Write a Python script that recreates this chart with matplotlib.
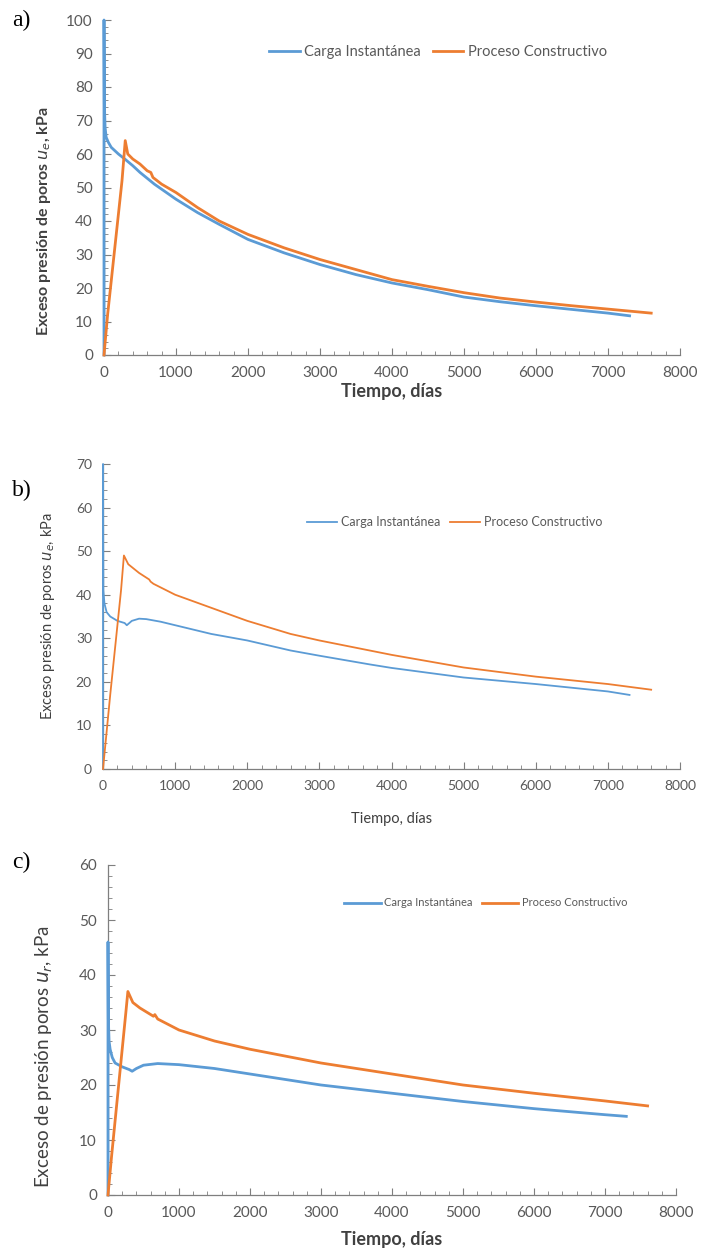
import matplotlib
matplotlib.use("Agg")
import matplotlib.pyplot as plt
from matplotlib.ticker import MultipleLocator

# ---------------- data ----------------
# Panel a
a_inst_t = [0, 0, 5, 15, 30, 60, 100, 200, 300, 400, 500, 700, 1000, 1300, 1600, 2000,
            2500, 3000, 3500, 4000, 4500, 5000, 5500, 6000, 6500, 7000, 7300]
a_inst_u = [0, 100, 75, 68, 65, 63.5, 62, 60, 58.3, 56.5, 54.5, 51, 46.5, 42.5, 39, 34.5,
            30.5, 27, 24, 21.5, 19.5, 17.3, 15.9, 14.7, 13.6, 12.5, 11.7]
a_cons_t = [0, 50, 100, 150, 200, 250, 295, 330, 400, 500, 600, 650, 680, 800, 1000, 1300,
            1600, 2000, 2500, 3000, 3500, 4000, 4500, 5000, 5500, 6000, 6500, 7000, 7600]
a_cons_u = [0, 12, 22, 32, 42, 52, 64, 60, 58.5, 57, 55, 54.5, 53, 51, 48.5, 44,
            40, 36, 32, 28.5, 25.5, 22.5, 20.5, 18.6, 17, 15.8, 14.7, 13.7, 12.5]

# Panel b
b_inst_t = [0, 0, 5, 20, 50, 100, 200, 300, 330, 400, 500, 600, 800, 1000, 1500, 2000,
            2600, 3000, 3700, 4000, 5000, 6000, 7000, 7300]
b_inst_u = [0, 70, 41, 38, 36, 35, 34, 33.5, 33, 34, 34.5, 34.4, 33.8, 33, 31, 29.5,
            27.2, 26, 24, 23.2, 21, 19.5, 17.8, 17]
b_cons_t = [0, 50, 100, 150, 200, 250, 290, 350, 500, 640, 660, 700, 1000, 1500, 2000,
            2600, 3000, 4000, 5000, 6000, 7000, 7600]
b_cons_u = [0, 8.5, 17, 25, 33, 41, 49, 47, 45, 43.5, 43, 42.5, 40, 37, 34,
            31, 29.5, 26.2, 23.3, 21.2, 19.5, 18.2]

# Panel c
c_inst_t = [0, 0, 5, 15, 30, 60, 100, 200, 300, 340, 400, 500, 700, 1000, 1500, 2000,
            3000, 4000, 5000, 6000, 7000, 7300]
c_inst_u = [0, 46, 32, 28, 26.5, 25, 24, 23.3, 22.8, 22.5, 23, 23.6, 23.9, 23.7, 23, 22,
            20, 18.5, 17, 15.7, 14.6, 14.3]
c_cons_t = [0, 50, 100, 150, 200, 250, 280, 350, 450, 640, 660, 700, 1000, 1500, 2000,
            3000, 4000, 5000, 6000, 7000, 7600]
c_cons_u = [0, 7, 13.5, 20, 26.5, 33, 37, 35, 34, 32.5, 32.8, 32, 30, 28, 26.5,
            24, 22, 20, 18.5, 17.1, 16.2]

labels = ["Carga Instantánea", "Proceso Constructivo"]
xticks = [0, 1000, 2000, 3000, 4000, 5000, 6000, 7000, 8000]

BLUE = "#5B9BD5"
ORANGE = "#ED7D31"
GRAY = "#595959"

plt.rcParams['font.family'] = ['Lato', 'DejaVu Sans']

fig = plt.figure(figsize=(7.05, 12.53), dpi=100)

panels = [
    dict(rect=[104/705, 898/1253, 576/705, 335/1253], ymax=100,
         inst=(a_inst_t, a_inst_u), cons=(a_cons_t, a_cons_u), lw=2.0,
         ylabel=r"Exceso presión de poros $u_e$, kPa", yfw="bold", yfs=11.5,
         xfw="bold", xfs=13, tfs=11,
         leg=(0.58, 0.905), lfs=10.5, hl=2.1,
         ylc=(-0.088, 0.40), xlc=-0.085, tag="a)", tagy=20),
    dict(rect=[103/705, 484/1253, 577/705, 305/1253], ymax=70,
         inst=(b_inst_t, b_inst_u), cons=(b_cons_t, b_cons_u), lw=1.3,
         ylabel=r"Exceso presión de poros $u_e$, kPa", yfw="normal", yfs=10.5,
         xfw="normal", xfs=10.5, tfs=10,
         leg=(0.61, 0.81), lfs=9, hl=2.4,
         ylc=(-0.08, 0.5), xlc=-0.14, tag="b)", tagy=490),
    dict(rect=[108/705, 58/1253, 568/705, 330/1253], ymax=60,
         inst=(c_inst_t, c_inst_u), cons=(c_cons_t, c_cons_u), lw=2.0,
         ylabel=r"Exceso de presión poros $u_r$, kPa", yfw="normal", yfs=13.5,
         xfw="bold", xfs=13, tfs=11,
         leg=(0.665, 0.885), lfs=8, hl=3.3,
         ylc=(-0.093, 0.42), xlc=-0.11, tag="c)", tagy=862),
]

for p in panels:
    ax = fig.add_axes(p["rect"])
    ax.plot(p["inst"][0], p["inst"][1], color=BLUE, lw=p["lw"], label=labels[0],
            clip_on=False, zorder=3)
    ax.plot(p["cons"][0], p["cons"][1], color=ORANGE, lw=p["lw"], label=labels[1],
            clip_on=False, zorder=4)
    ax.set_xlim(0, 8000)
    ax.set_ylim(0, p["ymax"])
    ax.set_xticks(xticks)
    ax.yaxis.set_major_locator(MultipleLocator(10))
    ax.yaxis.set_minor_locator(MultipleLocator(2))
    ax.xaxis.set_minor_locator(MultipleLocator(200))
    for s in ["top", "right"]:
        ax.spines[s].set_visible(False)
    for s in ["left", "bottom"]:
        ax.spines[s].set_color("#7F7F7F")
        ax.spines[s].set_linewidth(0.9)
    ax.tick_params(axis="both", which="major", direction="in", length=5,
                   color="#7F7F7F", labelcolor=GRAY, labelsize=p["tfs"], pad=8)
    ax.tick_params(axis="both", which="minor", direction="in", length=3,
                   color="#7F7F7F")
    ax.set_ylabel(p["ylabel"], fontsize=p["yfs"], color="#404040", fontweight=p["yfw"])
    ax.set_xlabel("Tiempo, días", fontsize=p["xfs"], color="#404040", fontweight=p["xfw"])
    ax.yaxis.set_label_coords(*p["ylc"])
    ax.xaxis.set_label_coords(0.5, p["xlc"])
    ax.legend(loc="center", bbox_to_anchor=p["leg"], ncol=2, frameon=False,
              fontsize=p["lfs"], handlelength=p["hl"], handletextpad=0.3,
              columnspacing=0.8, labelcolor=GRAY)
    fig.text(12/705, 1 - p["tagy"]/1253, p["tag"], fontsize=17,
             family="Liberation Serif", va="center", ha="left")

fig.savefig("out.png", dpi=100)
